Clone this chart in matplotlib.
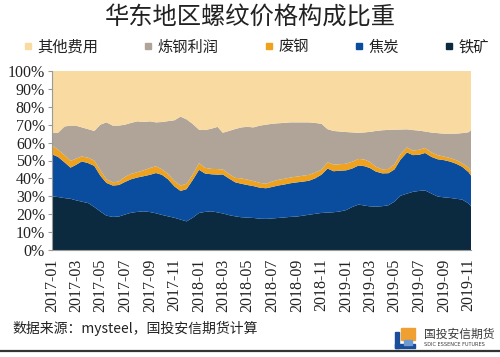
import matplotlib
matplotlib.use('Agg')
import matplotlib.pyplot as plt
import matplotlib.patches as mpatches
from matplotlib.lines import Line2D
from matplotlib.ticker import FuncFormatter
import pandas as pd

plt.rcParams['font.family'] = ['Noto Sans CJK SC', 'DejaVu Sans']

# ---- data (semi-monthly readings, % of price) ----
months = pd.period_range('2017-01', '2019-10', freq='M')
dates = []
for p in months:
    dates.append(p.start_time)
    dates.append(p.start_time + pd.Timedelta(days=15))
dates += [pd.Timestamp('2019-11-01'), pd.Timestamp('2019-11-07')]

iron = [30.0, 29.6, 29.0, 28.6, 27.8, 27.0, 26.2, 24.0, 21.5, 19.2,
        18.5, 18.7, 19.8, 20.8, 21.3, 21.6, 21.2, 20.5, 19.6, 18.8,
        18.0, 17.0, 16.0, 18.0, 20.7, 21.3, 21.6, 21.0, 20.4, 19.5,
        18.8, 18.3, 18.1, 17.9, 17.5, 17.4, 17.6, 17.9, 18.2, 18.5,
        18.7, 19.2, 19.7, 20.2, 20.7, 20.9, 21.1, 21.5, 22.3, 24.0,
        25.4, 24.8, 24.4, 24.2, 24.5, 25.0, 27.0, 30.3, 31.5, 32.5,
        33.0, 33.3, 31.5, 29.9, 29.4, 29.1, 28.6, 28.2, 26.0, 24.4]
coke = [23.5, 22.4, 20.0, 17.4, 19.7, 22.5, 22.3, 23.0, 20.0, 18.3,
        17.5, 17.6, 18.2, 18.7, 19.2, 19.6, 20.8, 22.5, 22.4, 20.7,
        17.5, 16.0, 18.0, 21.0, 24.1, 21.4, 20.7, 21.1, 21.8, 20.5,
        19.0, 18.7, 18.2, 17.8, 17.3, 17.1, 17.6, 18.1, 18.4, 18.8,
        19.1, 19.0, 19.0, 19.8, 21.4, 24.6, 22.9, 22.8, 22.2, 21.5,
        21.8, 22.0, 21.4, 19.6, 18.3, 17.9, 18.0, 20.2, 23.0, 20.5,
        20.2, 20.9, 20.5, 20.8, 20.8, 20.3, 19.6, 18.3, 17.5, 17.2]
scrap = [5.0, 4.0, 4.0, 3.8, 3.5, 2.8, 3.0, 3.0, 3.0, 2.0,
         1.8, 2.0, 2.8, 3.0, 3.0, 3.3, 3.8, 3.8, 3.0, 3.0,
         3.0, 3.0, 3.0, 3.0, 3.7, 3.2, 3.0, 3.1, 2.8, 2.5,
         2.5, 3.0, 3.0, 2.8, 2.7, 2.5, 3.0, 3.2, 3.2, 3.2,
         3.2, 3.3, 3.3, 3.2, 2.8, 3.5, 3.7, 3.6, 3.7, 3.8,
         3.7, 3.7, 3.4, 2.7, 2.2, 2.4, 2.8, 3.0, 2.8, 2.5,
         2.8, 2.8, 2.5, 2.3, 2.0, 2.0, 2.0, 2.0, 2.5, 2.4]
profit = [6.8, 9.5, 16.0, 19.7, 18.5, 16.2, 16.0, 16.5, 25.5, 31.8,
          31.7, 31.2, 29.2, 28.5, 28.4, 27.0, 26.1, 24.5, 26.5, 29.5,
          34.0, 38.5, 36.0, 28.5, 18.7, 21.1, 22.5, 23.6, 20.5, 24.0,
          27.3, 28.5, 29.5, 30.0, 32.0, 33.0, 32.3, 31.6, 31.2, 30.8,
          30.3, 29.8, 29.3, 27.8, 25.6, 18.5, 18.8, 18.3, 17.7, 16.4,
          14.6, 15.2, 16.8, 20.0, 21.9, 21.8, 19.4, 13.8, 10.1, 11.5,
          10.7, 9.2, 11.1, 12.3, 12.8, 13.6, 14.8, 16.8, 19.8, 23.0]
other = [34.7, 34.5, 31.0, 30.5, 30.5, 31.5, 32.5, 33.5, 30.0, 28.7,
         30.5, 30.5, 30.0, 29.0, 28.1, 28.5, 28.1, 28.7, 28.5, 28.0,
         27.5, 25.5, 27.0, 29.5, 32.8, 33.0, 32.2, 31.2, 34.5, 33.5,
         32.4, 31.5, 31.2, 31.5, 30.5, 30.0, 29.5, 29.2, 29.0, 28.7,
         28.7, 28.7, 28.7, 29.0, 29.5, 32.5, 33.5, 33.8, 34.1, 34.3,
         34.5, 34.3, 34.0, 33.5, 33.1, 32.9, 32.8, 32.7, 32.6, 33.0,
         33.3, 33.8, 34.4, 34.7, 35.0, 35.0, 35.0, 34.7, 34.2, 33.0]

series_names = ['铁矿', '焦炭', '废钢', '炼钢利润', '其他费用']
colors = ['#0C2A3F', '#0A4C9E', '#EFA21E', '#B0A499', '#F9DBA2']
tick_dates = pd.date_range('2017-01-01', '2019-11-01', freq='2MS')
tick_labels = [d.strftime('%Y-%m') for d in tick_dates]

# ---- figure ----
fig = plt.figure(figsize=(5.0, 3.57), dpi=100)
ax = fig.add_axes([52/500, 1-250/357, (471-52)/500, (250-71)/357])

ax.stackplot(dates, iron, coke, scrap, profit, other, colors=colors,
             labels=series_names, linewidth=0)
ax.set_xlim(dates[0], dates[-1])
ax.set_ylim(0, 100)
ax.set_yticks(range(0, 101, 10))
ax.yaxis.set_major_formatter(FuncFormatter(lambda v, p: f'{v:.0f}%'))
ax.set_xticks(tick_dates)
ax.set_xticklabels(tick_labels, rotation=90)
for lab in ax.get_xticklabels() + ax.get_yticklabels():
    lab.set_fontfamily('Liberation Serif')
    lab.set_fontsize(11.5)
    lab.set_color('#222222')
ax.tick_params(axis='y', length=3, color='#999999', pad=2)
ax.tick_params(axis='x', length=0, pad=6)
for s in ['top', 'right']:
    ax.spines[s].set_visible(False)
for s in ['left', 'bottom']:
    ax.spines[s].set_color('#9A9A9A')
    ax.spines[s].set_linewidth(0.8)

# title
fig.text(0.5, 1-17/357, '华东地区螺纹价格构成比重', ha='center', va='center',
         fontsize=17.5, color='#222222')

# legend
order = [4, 3, 2, 1, 0]
handles = [Line2D([], [], marker='s', linestyle='none', markersize=4.5,
                  markerfacecolor=colors[i], markeredgecolor=colors[i]) for i in order]
labels = [series_names[i] for i in order]
fig.legend(handles, labels, loc='center', bbox_to_anchor=(256/500, 1-47/357),
           ncol=5, frameon=False, fontsize=11, handlelength=0.6,
           handletextpad=0.3, columnspacing=3.0, labelcolor='#222222')

# source
fig.text(12/500, 1-328/357, '数据来源：mysteel，国投安信期货计算', ha='left',
         va='center', fontsize=10, color='#222222')

# logo
fig.patches.append(mpatches.Rectangle((401/500, 1-340/357), 14/500, 12/357,
                   transform=fig.transFigure, color='#F0A030'))
fig.patches.append(mpatches.Rectangle((395/500, 1-348/357), 4/500, 16/357,
                   transform=fig.transFigure, color='#1A4E9A'))
fig.patches.append(mpatches.Rectangle((395/500, 1-348/357), 20/500, 4/357,
                   transform=fig.transFigure, color='#1A4E9A'))
fig.patches.append(mpatches.Rectangle((404/500, 1-345/357), 8/500, 5/357,
                   transform=fig.transFigure, color='#6F9ACF'))
fig.text(424/500, 1-334/357, '国投安信期货', ha='left', va='center',
         fontsize=8.5, color='#3A3A3A')
fig.text(424/500, 1-345/357, 'SDIC ESSENCE FUTURES', ha='left', va='center',
         fontsize=3.6, color='#3A3A3A', family='DejaVu Sans')

# bottom rule
fig.add_artist(Line2D([0, 1], [1-351/357, 1-351/357], transform=fig.transFigure,
                      color='#333333', linewidth=1.6))

fig.savefig('out.png', dpi=100)
